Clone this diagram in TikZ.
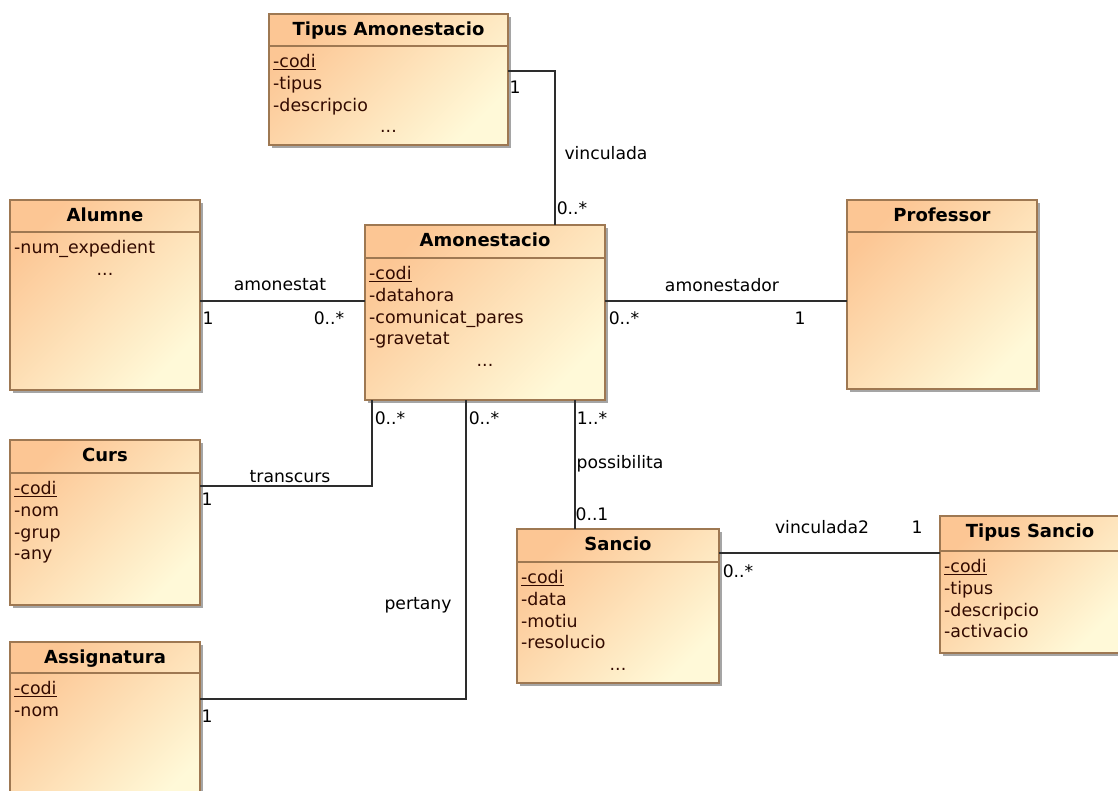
\documentclass[tikz,border=0pt]{standalone}
\usepackage{fontspec}
\setmainfont{DejaVu Sans}
\usetikzlibrary{calc}

\definecolor{clsTop}{RGB}{252,198,148}
\definecolor{clsBot}{RGB}{255,249,216}
\definecolor{clsBorder}{RGB}{158,120,82}
\definecolor{attrText}{RGB}{50,10,0}
\definecolor{wire}{RGB}{45,45,45}
\definecolor{shadowgray}{RGB}{165,165,165}

\tikzset{
  classbox/.style={draw=clsBorder, line width=1.3pt, top color=clsTop, bottom color=clsBot,
    shading angle=45, inner sep=0pt, outer sep=0pt, anchor=north west},
  classtitle/.style={font=\fontsize{18}{20}\selectfont\bfseries, text=black, inner sep=0pt, anchor=base},
  attr/.style={font=\fontsize{17.4}{20}\selectfont, text=attrText, inner sep=0pt},
  assoc/.style={draw=wire, line width=1.2pt},
  role/.style={font=\fontsize{17.2}{20}\selectfont, text=black, inner sep=0pt},
}

% class box: name, x, y, width, height, header height, title
\newcommand\umlbox[7]{%
  \fill[shadowgray] (#2+3,#3+3) rectangle ++(#4,#5);
  \node[classbox, minimum width=#4pt, minimum height=#5pt] (#1) at (#2,#3) {};
  \draw[clsBorder, line width=1.3pt] ($(#1.north west)+(0,#6)$) -- ($(#1.north east)+(0,#6)$);
  \node[classtitle] (#1-title) at ($(#1.north)+(0,21.7)$) {#7};
}
% attribute lines: name, header height, list of entries
\newcommand\umlattrs[3]{%
  \foreach \t [count=\k] in {#3} {
    \node[attr, anchor=base west] (#1-a\k) at ($(#1.north west)+(4,#2+21.7*\k)$) {\t};
  }%
}
% trailing ellipsis: name, header height, line number
\newcommand\umlmore[3]{%
  \node[attr, anchor=base] (#1-more) at ($(#1.north)+(0,#2+21.7*#3)$) {...};
}

\begin{document}
\begin{tikzpicture}[x=1pt, y=-1pt]
\clip (0,0) rectangle (1118,791);
\fill[white] (0,0) rectangle (1118,791);

% ---- classes ----
\umlbox{ta}{269}{14}{239}{131}{32}{Tipus Amonestacio}
\umlattrs{ta}{32}{\underline{-codi}, -tipus, -descripcio}
\umlmore{ta}{32}{4}

\umlbox{alumne}{10}{200}{190}{190}{32}{Alumne}
\umlattrs{alumne}{32}{-num\_expedient}
\umlmore{alumne}{32}{2}

\umlbox{amon}{365}{225}{240}{175}{33}{Amonestacio}
\umlattrs{amon}{33}{\underline{-codi}, -datahora, -comunicat\_pares, -gravetat}
\umlmore{amon}{33}{5}

\umlbox{prof}{847}{200}{190}{189}{32}{Professor}

\umlbox{curs}{10}{440}{190}{165}{33}{Curs}
\umlattrs{curs}{33}{\underline{-codi}, -nom, -grup, -any}

\umlbox{assig}{10}{642}{190}{170}{31}{Assignatura}
\umlattrs{assig}{31}{\underline{-codi}, -nom}

\umlbox{sancio}{517}{529}{202}{154}{33}{Sancio}
\umlattrs{sancio}{33}{\underline{-codi}, -data, -motiu, -resolucio}
\umlmore{sancio}{33}{5}

\umlbox{tsancio}{940}{516}{180}{137}{35}{Tipus Sancio}
\umlattrs{tsancio}{35}{\underline{-codi}, -tipus, -descripcio, -activacio}

% ---- associations ----
\draw[assoc] ($(ta.north east)+(0,57)$) -| ($(amon.north west)+(190,0)$);
\draw[assoc] ($(alumne.north east)+(0,101)$) -- ($(amon.north west)+(0,76)$);
\draw[assoc] ($(amon.north east)+(0,76)$) -- ($(prof.north west)+(0,101)$);
\draw[assoc] ($(amon.south west)+(7,0)$) |- ($(curs.north east)+(0,46)$);
\draw[assoc] ($(amon.south west)+(101,0)$) |- ($(assig.north east)+(0,57)$);
\draw[assoc] ($(amon.south west)+(210,0)$) -- ($(sancio.north west)+(58,0)$);
\draw[assoc] ($(sancio.north east)+(0,24)$) -- ($(tsancio.north west)+(0,37)$);

% ---- association names and multiplicities ----
\node[role] (m-ta)      at (515,87)  {1};
\node[role] (n-vinc)    at (606,153) {vinculada};
\node[role] (m-ta2)     at (572,208) {0..*};
\node[role] (n-amst)    at (280,285) {amonestat};
\node[role] (m-al)      at (208,318) {1};
\node[role] (m-al2)     at (329,318) {0..*};
\node[role] (n-amdr)    at (722,285) {amonestador};
\node[role] (m-pr2)     at (624,318) {0..*};
\node[role] (m-pr)      at (800,318) {1};
\node[role] (m-cu2)     at (390,418) {0..*};
\node[role] (m-as2)     at (484,418) {0..*};
\node[role] (m-sa2)     at (592,418) {1..*};
\node[role] (n-trans)   at (290,477) {transcurs};
\node[role] (m-cu)      at (207,499) {1};
\node[role] (n-poss)    at (620,464) {possibilita};
\node[role] (m-sa)      at (592,514) {0..1};
\node[role] (n-vinc2)   at (822,527) {vinculada2};
\node[role] (m-ts)      at (917,527) {1};
\node[role] (m-ts2)     at (738,571) {0..*};
\node[role] (n-pert)    at (418,605) {pertany};
\node[role] (m-as)      at (207,716) {1};
\end{tikzpicture}
\end{document}
